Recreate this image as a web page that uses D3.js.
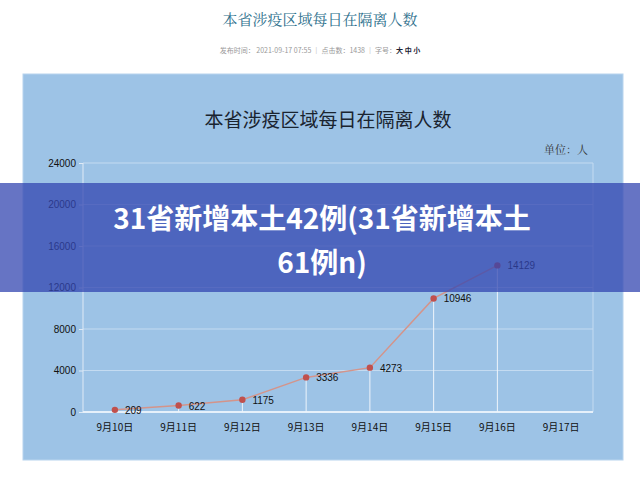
<!DOCTYPE html>
<html><head><meta charset="utf-8">
<script src="https://cdn.jsdelivr.net/npm/d3@7/dist/d3.min.js"></script>
<style>body{margin:0;background:#fff}svg{display:block}</style>
</head><body><svg id="c" width="640" height="477"></svg>
<script>
const categories=["9月10日","9月11日","9月12日","9月13日","9月14日","9月15日","9月16日","9月17日"];
const values=[209,622,1175,3336,4273,10946,14129];
const yTicks=[0,4000,8000,12000,16000,20000,24000];
const svg=d3.select("#c");
const F="'Noto Sans CJK SC',sans-serif";
svg.append("text").attr("x",320).attr("y",25).attr("text-anchor","middle").attr("font-family","'Noto Serif CJK SC','Noto Sans CJK SC',serif").attr("font-size",15).attr("fill","#2d6f8c").text("本省涉疫区域每日在隔离人数");
const meta=svg.append("text").attr("x",320).attr("y",53).attr("text-anchor","middle").attr("font-family",F).attr("font-size",7).attr("fill","#999");
meta.append("tspan").text("发布时间： 2021-09-17 07:55 ｜ 点击数：1438 ｜ 字号：");
meta.append("tspan").attr("fill","#223").attr("font-weight","bold").text("大 中 小");
svg.append("rect").attr("x",23).attr("y",74).attr("width",600).attr("height",386).attr("fill","#9dc3e6").attr("stroke","#b8d4ee");
svg.append("text").attr("x",328).attr("y",127).attr("text-anchor","middle").attr("font-family",F).attr("font-size",19).attr("fill","#1a2430").text("本省涉疫区域每日在隔离人数");
svg.append("text").attr("x",588).attr("y",154).attr("text-anchor","end").attr("font-family","'Noto Serif CJK SC',serif").attr("font-size",11).attr("fill","#333").text("单位：人");
const x=d3.scaleBand().domain(categories).range([83,593]);
const y=d3.scaleLinear().domain([0,24000]).range([412,163]);
const g=svg.append("g");
g.selectAll(".gl").data(yTicks).enter().append("line").attr("x1",83).attr("x2",593).attr("y1",d=>y(d)).attr("y2",d=>y(d)).attr("stroke","#c4dbf1").attr("stroke-width",1);
g.append("line").attr("x1",593).attr("x2",593).attr("y1",163).attr("y2",412).attr("stroke","#c4dbf1");
g.append("line").attr("x1",83).attr("x2",83).attr("y1",163).attr("y2",412).attr("stroke","#dfeaf6");
g.append("line").attr("x1",83).attr("x2",593).attr("y1",412).attr("y2",412).attr("stroke","#e6f0fa").attr("stroke-width",2);
const cx=(d,i)=>x(categories[i])+x.bandwidth()/2;
g.selectAll(".v").data(values).enter().append("line").attr("x1",cx).attr("x2",cx).attr("y1",d=>y(d)).attr("y2",412).attr("stroke","#eef4fb").attr("stroke-width",1);
const ya=d3.axisLeft(y).tickValues(yTicks).tickSize(4).tickFormat(d3.format("d"));
const ag=svg.append("g").attr("transform","translate(83,0)").call(ya);
ag.select(".domain").remove();
ag.selectAll("line").attr("stroke","#dfeaf6");
ag.selectAll("text").attr("font-family","'Liberation Sans',Arial").attr("font-size",10).attr("fill","#111");
const xa=d3.axisBottom(x).tickSize(0).tickPadding(12);
const xg=svg.append("g").attr("transform","translate(0,412)").call(xa);
xg.select(".domain").remove();
xg.selectAll("text").attr("font-family",F).attr("font-size",10).attr("fill","#111");
const line=d3.line().x((d,i)=>cx(d,i)).y(d=>y(d));
g.append("path").datum(values).attr("d",line).attr("fill","none").attr("stroke","#d4948a").attr("stroke-width",1.5);
g.selectAll(".p").data(values).enter().append("circle").attr("cx",cx).attr("cy",d=>y(d)).attr("r",3.2).attr("fill","#c0504d");
g.selectAll(".l").data(values).enter().append("text").attr("x",(d,i)=>cx(d,i)+10).attr("y",d=>y(d)+4).attr("font-family","'Liberation Sans',Arial").attr("font-size",10).attr("fill","#111").text(d=>d);
svg.append("rect").attr("x",0).attr("y",183).attr("width",640).attr("height",109).attr("fill","#3346b0").attr("opacity",0.75);
const t=svg.append("text").attr("text-anchor","middle").attr("font-family",F).attr("font-weight","bold").attr("font-size",28).attr("fill","#fff");
t.append("tspan").attr("x",322).attr("y",229).text("31省新增本土42例(31省新增本土");
t.append("tspan").attr("x",322).attr("y",273).text("61例n)");
</script></body></html>
